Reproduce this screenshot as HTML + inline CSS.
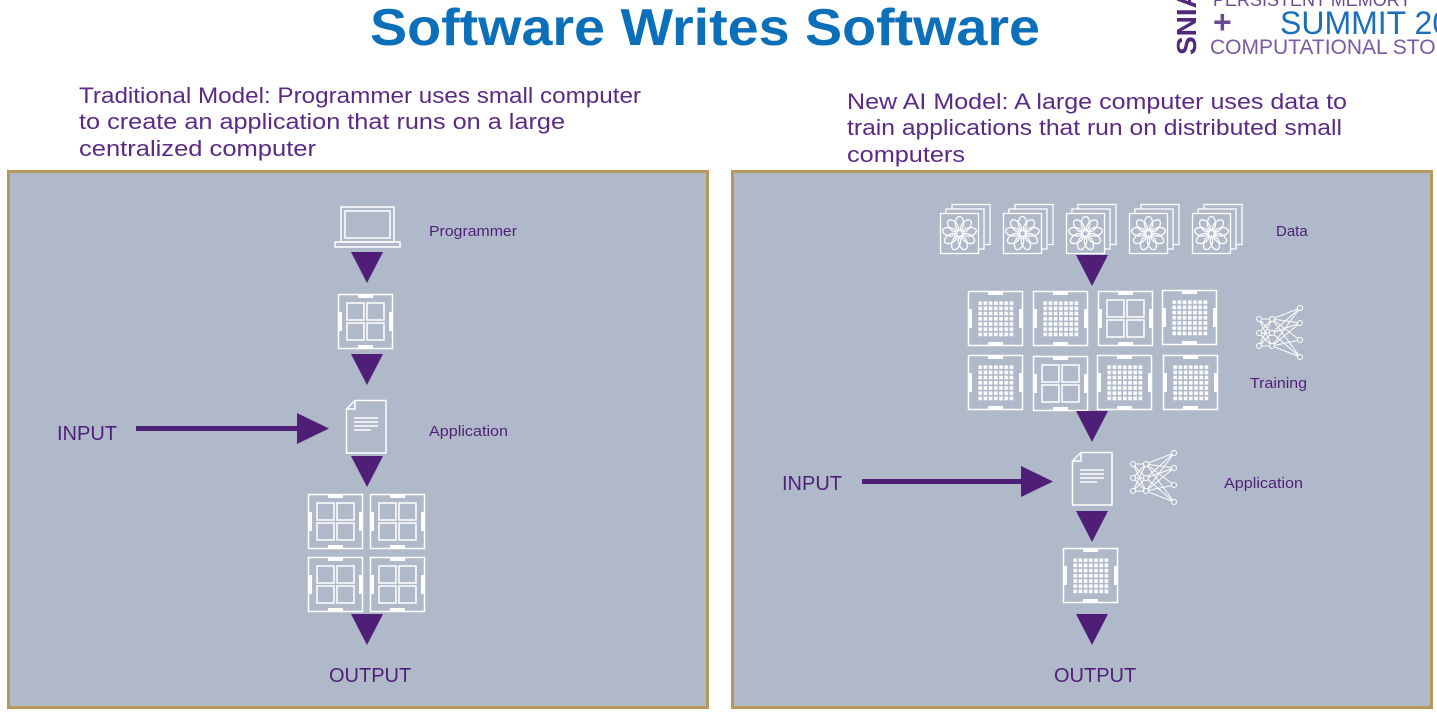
<!DOCTYPE html>
<html><head><meta charset="utf-8"><style>
body{margin:0;background:#fff;width:1437px;height:715px;overflow:hidden;font-family:"Liberation Sans",sans-serif}
</style></head><body>
<svg width="1437" height="715" viewBox="0 0 1437 715" xmlns="http://www.w3.org/2000/svg">
<defs>
<g id="frame" fill="none" stroke="#fff" stroke-width="1.5">
<rect x="0.5" y="0.5" width="54" height="54"/>
<path d="M20 2.5h15M20 52.5h15M2.5 18v19M52.5 18v19" stroke-width="3"/>
</g>
<g id="quad"><use href="#frame"/><g fill="none" stroke="#fff" stroke-width="1.5"><rect x="9" y="9" width="17" height="17"/><rect x="29" y="9" width="17" height="17"/><rect x="9" y="29" width="17" height="17"/><rect x="29" y="29" width="17" height="17"/></g></g>
<pattern id="dots" width="5.2" height="5.2" patternUnits="userSpaceOnUse"><rect width="3.6" height="3.6" fill="#fff"/></pattern>
<g id="grid"><use href="#frame"/><rect x="10" y="10" width="36" height="36" fill="url(#dots)"/></g>
<g id="flower" fill="none" stroke="#fff" stroke-width="1.3">
<rect x="12" y="0.5" width="38" height="40"/><rect x="6" y="5" width="38" height="40" fill="#b0b9c9"/><rect x="0.5" y="9.5" width="38" height="40" fill="#b0b9c9"/>
<g transform="translate(19.5,29.5)"><circle r="3"/>
<g id="pet"><ellipse cx="0" cy="-10" rx="4.2" ry="7"/></g>
<use href="#pet" transform="rotate(40)"/><use href="#pet" transform="rotate(80)"/><use href="#pet" transform="rotate(120)"/><use href="#pet" transform="rotate(160)"/><use href="#pet" transform="rotate(200)"/><use href="#pet" transform="rotate(240)"/><use href="#pet" transform="rotate(280)"/><use href="#pet" transform="rotate(320)"/></g>
</g>
<g id="doc" fill="none" stroke="#fff" stroke-width="1.5">
<path d="M9 0.5H40V53H0.5V9Z M9 0.5V9H0.5"/>
<path d="M8 18H32M8 22H32M8 26H32M8 30H25"/>
</g>
<g id="net" stroke="#fff" stroke-width="1" fill="#b0b9c9">
<path d="M3 13L16 13L44 2M3 13L16 27L44 17M3 27L16 13L44 34M3 27L16 40L44 51M3 40L16 27L44 2M3 40L16 40L44 34M16 13L44 17M16 13L44 51M16 27L44 2M16 27L44 51M16 40L44 17M16 40L44 2M3 13L16 40M3 40L16 13M3 27L16 27" fill="none"/>
<circle cx="3" cy="13" r="2.5"/><circle cx="3" cy="27" r="2.5"/><circle cx="3" cy="40" r="2.5"/>
<circle cx="16" cy="13" r="2.5"/><circle cx="16" cy="27" r="2.5"/><circle cx="16" cy="40" r="2.5"/>
<circle cx="44" cy="2" r="2.5"/><circle cx="44" cy="17" r="2.5"/><circle cx="44" cy="34" r="2.5"/><circle cx="44" cy="51" r="2.5"/>
</g>
<path id="tri" d="M-16 0H16L0 31Z" fill="#4f1f78"/>
</defs>

<text x="370" y="45" textLength="670" lengthAdjust="spacingAndGlyphs" font-size="52" font-weight="bold" fill="#0b6fba">Software Writes Software</text>
<text transform="translate(1196,55) rotate(-90)" font-size="28" font-weight="bold" fill="#4f2a7a">SNIA</text>
<text x="1213" y="6" font-size="18" fill="#6a4a94">PERSISTENT MEMORY</text>
<text x="1213" y="33" font-size="32" font-weight="bold" fill="#6a4a94">+</text>
<text x="1280" y="34" font-size="32" fill="#1a6fba">SUMMIT 20</text>
<text x="1210" y="54" font-size="21" fill="#7a5aa0">COMPUTATIONAL STORAGE</text>

<g font-size="22" fill="#5b2a86">
<text x="79" y="103" textLength="562" lengthAdjust="spacingAndGlyphs">Traditional Model: Programmer uses small computer</text>
<text x="79" y="129" textLength="486" lengthAdjust="spacingAndGlyphs">to create an application that runs on a large</text>
<text x="79" y="156" textLength="237" lengthAdjust="spacingAndGlyphs">centralized computer</text>
<text x="847" y="109" textLength="500" lengthAdjust="spacingAndGlyphs">New AI Model: A large computer uses data to</text>
<text x="847" y="135" textLength="495" lengthAdjust="spacingAndGlyphs">train applications that run on distributed small</text>
<text x="847" y="162" textLength="118" lengthAdjust="spacingAndGlyphs">computers</text>
</g>

<rect x="8.5" y="171.5" width="699" height="536" fill="#b0b9c9" stroke="#b8975a" stroke-width="3"/>
<rect x="732.5" y="171.5" width="699" height="536" fill="#b0b9c9" stroke="#b8975a" stroke-width="3"/>

<!-- left -->
<g fill="none" stroke="#fff" stroke-width="1.5">
<rect x="341" y="207" width="53" height="35"/><rect x="345" y="211" width="45" height="27"/>
<path d="M335 242h65v5h-65z"/>
</g>
<use href="#tri" x="367" y="252"/>
<use href="#quad" x="338" y="294"/>
<use href="#tri" x="367" y="354"/>
<use href="#doc" x="346" y="400"/>
<use href="#tri" x="367" y="456"/>
<use href="#quad" x="308" y="494"/><use href="#quad" x="370" y="494"/>
<use href="#quad" x="308" y="557"/><use href="#quad" x="370" y="557"/>
<use href="#tri" x="367" y="614"/>
<rect x="136" y="426" width="165" height="5" fill="#4f1f78"/>
<path d="M297 413L329 428.5L297 444Z" fill="#4f1f78"/>
<g fill="#4f1f78">
<text x="429" y="236" font-size="15" textLength="88" lengthAdjust="spacingAndGlyphs">Programmer</text>
<text x="429" y="436" font-size="15" textLength="79" lengthAdjust="spacingAndGlyphs">Application</text>
<text x="57" y="440" font-size="20">INPUT</text>
<text x="329" y="682" font-size="20">OUTPUT</text>
</g>

<!-- right -->
<use href="#flower" x="940" y="204"/><use href="#flower" x="1003" y="204"/><use href="#flower" x="1066" y="204"/><use href="#flower" x="1129" y="204"/><use href="#flower" x="1192" y="204"/>
<use href="#tri" x="1092" y="255"/>
<use href="#grid" x="968" y="291"/><use href="#grid" x="1033" y="291"/><use href="#quad" x="1098" y="291"/><use href="#grid" x="1162" y="290"/>
<use href="#grid" x="968" y="355"/><use href="#quad" x="1033" y="356"/><use href="#grid" x="1097" y="355"/><use href="#grid" x="1163" y="355"/>
<use href="#net" x="1256" y="306"/>
<use href="#tri" x="1092" y="411"/>
<use href="#doc" x="1072" y="452"/>
<use href="#net" x="1130" y="451"/>
<use href="#tri" x="1092" y="511"/>
<use href="#grid" x="1063" y="548"/>
<use href="#tri" x="1092" y="614"/>
<rect x="862" y="479" width="165" height="5" fill="#4f1f78"/>
<path d="M1021 466L1053 481.5L1021 497Z" fill="#4f1f78"/>
<g fill="#4f1f78">
<text x="1276" y="236" font-size="15">Data</text>
<text x="1250" y="388" font-size="15" textLength="57" lengthAdjust="spacingAndGlyphs">Training</text>
<text x="1224" y="488" font-size="15" textLength="79" lengthAdjust="spacingAndGlyphs">Application</text>
<text x="782" y="490" font-size="20">INPUT</text>
<text x="1054" y="682" font-size="20">OUTPUT</text>
</g>
</svg>
</body></html>
